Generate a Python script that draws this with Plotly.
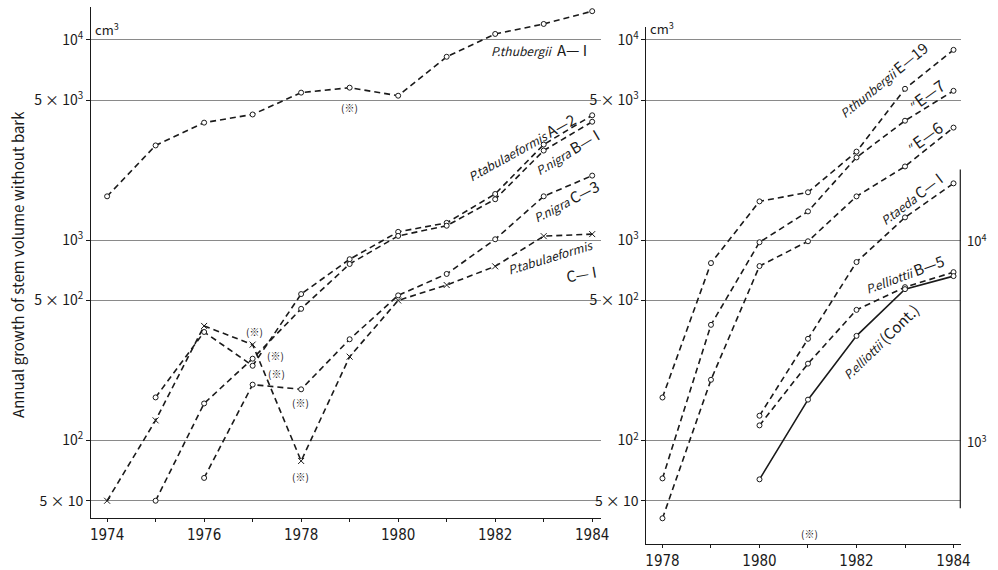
import math
import plotly.graph_objects as go

W, H = 998, 570

# ---------------- data ----------------
years_A1 = [1974, 1975, 1976, 1977, 1978, 1979, 1980, 1981, 1982, 1983, 1984]
thub_A1 = [1655, 2970, 3860, 4240, 5450, 5770, 5260, 8230, 10700, 12000, 13900]

years_A2 = [1975, 1976, 1977, 1978, 1979, 1980, 1981, 1982, 1983, 1984]
tabu_A2 = [164, 348, 236, 538, 803, 1100, 1220, 1700, 3000, 4200]

years_B1 = [1975, 1976, 1977, 1978, 1979, 1980, 1981, 1982, 1983, 1984]
nigra_B1 = [50, 153, 256, 454, 760, 1050, 1180, 1600, 2800, 3900]

years_C3 = [1976, 1977, 1978, 1979, 1980, 1981, 1982, 1983, 1984]
nigra_C3 = [65, 190, 180, 320, 530, 678, 1010, 1655, 2100]

years_C1 = [1974, 1975, 1976, 1977, 1978, 1979, 1980, 1981, 1982, 1983, 1984]
tabu_C1 = [50, 126, 373, 301, 79, 262, 500, 597, 740, 1047, 1072]

years_E = [1978, 1979, 1980, 1981, 1982, 1983, 1984]
thun_E19 = [164, 769, 1563, 1735, 2770, 5700, 8920]
thun_E7 = [64.7, 378, 977, 1393, 2590, 3950, 5570]
thun_E6 = [40.9, 201, 743, 988, 1655, 2335, 3650]

years_R = [1980, 1981, 1982, 1983, 1984]
taeda_C1 = [133, 322, 778, 1300, 1923]
elli_B5 = [119, 242, 449, 583, 693]
elli_cont = [64, 160, 333, 570, 662]

left_year_labels = [1974, 1976, 1978, 1980, 1982, 1984]
right_year_labels = [1978, 1980, 1982, 1984]
ytick_vals = [50, 100, 500, 1000, 5000, 10000]
ytick_text = ["5 × 10", "10<sup>2</sup>", "5 × 10<sup>2</sup>", "10<sup>3</sup>",
              "5 × 10<sup>3</sup>", "10<sup>4</sup>"]
# secondary right-hand scale of the right panel (one decade above the left scale)
y3_vals = [1000, 10000]
y3_text = ["10<sup>3</sup>", "10<sup>4</sup>"]
y3_factor = 10

# ---------------- helpers ----------------
def px(x, y):
    return x / W, 1 - y / H

DASH = "6px,4px"
INK = "#1a1a1a"
FONT = "Noto Sans CJK JP, Noto Sans, Arial, sans-serif"
NARROW = "Liberation Sans Narrow, DejaVu Sans Condensed, Arial Narrow, sans-serif"

fig = go.Figure()

def add(xs, ys, xa, ya, symbol="circle", dash=DASH):
    fig.add_trace(go.Scatter(
        x=xs, y=ys, xaxis=xa, yaxis=ya, mode="lines+markers",
        line=dict(color=INK, width=1.6, dash=dash),
        marker=dict(symbol=symbol, size=5 if symbol == "circle" else 6,
                    color="white" if symbol == "circle" else INK,
                    line=dict(color=INK, width=1)),
        showlegend=False, hoverinfo="x+y"))

add(years_A1, thub_A1, "x", "y")
add(years_A2, tabu_A2, "x", "y")
add(years_B1, nigra_B1, "x", "y")
add(years_C3, nigra_C3, "x", "y")
add(years_C1, tabu_C1, "x", "y", symbol="x-thin")

add(years_E, thun_E19, "x2", "y2")
add(years_E, thun_E7, "x2", "y2")
add(years_E, thun_E6, "x2", "y2")
add(years_R, taeda_C1, "x2", "y2")
add(years_R, elli_B5, "x2", "y2")
add(years_R, elli_cont, "x2", "y2", dash="solid")

tickfont = dict(family=NARROW, size=15, color=INK)
ytickfont = dict(family=FONT, size=14, color=INK)

xcommon = dict(showgrid=False, zeroline=False, showline=True, linecolor=INK, linewidth=1.2,
               ticks="outside", ticklen=3, tickcolor=INK, tickfont=tickfont,
               minor=dict(dtick=1, ticks="outside", ticklen=3, tickcolor=INK, showgrid=False))
ycommon = dict(type="log", showgrid=True, gridcolor="#8a8a8a", gridwidth=1,
               zeroline=False, showline=True, linecolor=INK, linewidth=1.2,
               ticks="outside", ticklen=4, tickcolor=INK,
               tickvals=ytick_vals, ticktext=ytick_text, tickfont=ytickfont)

fig.update_layout(
    width=W, height=H, margin=dict(l=0, r=0, t=0, b=0),
    paper_bgcolor="white", plot_bgcolor="white",
    xaxis=dict(domain=[91 / W, 606 / W], range=[1973.67, 1984.18], anchor="y",
               tickvals=left_year_labels, ticktext=[str(y) for y in left_year_labels],
               **xcommon),
    yaxis=dict(domain=[1 - 520 / H, 1 - 7 / H], range=[1.612, 4.164], anchor="x", **ycommon),
    xaxis2=dict(domain=[652 / W, 970 / W], range=[1977.67, 1984.16], anchor="y2",
                tickvals=right_year_labels, ticktext=[str(y) for y in right_year_labels],
                **xcommon),
    yaxis2=dict(domain=[1 - 546 / H, 1 - 27 / H], range=[1.483, 4.065], anchor="x2", **ycommon),
)

# secondary right-hand axis: line segment, ticks and labels placed on the y2 scale
x0, y0 = px(969, 170)
x1, y1 = px(969, 510)
fig.add_shape(type="line", xref="paper", yref="paper", x0=x0, x1=x1, y0=y0, y1=y1,
              line=dict(color=INK, width=1.2))
xr = 969 / W
for v, t in zip(y3_vals, y3_text):
    ly = math.log10(v / y3_factor)
    fig.add_shape(type="line", xref="paper", yref="y2", x0=xr, x1=xr + 5 / W, y0=ly, y1=ly,
                  line=dict(color=INK, width=1.2))
    fig.add_annotation(text=t, x=xr + 5 / W, y=ly, xref="paper", yref="y2", showarrow=False,
                       xanchor="left", yanchor="middle",
                       font=dict(family=FONT, size=13, color=INK))

def label(text, x, y, angle=0, size=12):
    ax, ay = px(x, y)
    fig.add_annotation(text=text, x=ax, y=ay, xref="paper", yref="paper",
                       showarrow=False, textangle=angle, xanchor="center", yanchor="middle",
                       font=dict(family=FONT, size=size, color=INK))

def sp(name, tag, big=15, small=12):
    return (f"<span style='font-size:{small}px'><i>{name}</i></span> "
            f"<span style='font-size:{big}px'>{tag}</span>")

# series labels - left panel
label(sp("P.thubergii", " A— I"), 543, 50)
label(sp("P.tabulaeformis", "A—2"), 526, 147, angle=-29)
label(sp("P.nigra", "B— I"), 572, 152, angle=-31)
label(sp("P.nigra", "C—3"), 571, 201, angle=-27)
label("<i>P.tabulaeformis</i>", 555, 257, angle=-17, size=12)
label("C— I", 586, 274, angle=-10, size=15)

# series labels - right panel
label(sp("P.thunbergii", "E—19"), 891, 80, angle=-39)
label("<i>″</i> <span style='font-size:16px'>E—7</span>", 934, 95, angle=-36, size=12)
label("<i>″</i> <span style='font-size:16px'>E—6</span>", 932, 137, angle=-36, size=12)
label(sp("P.taeda", "C— I"), 919, 199, angle=-37)
label(sp("P.elliottii", "B—5"), 913, 274, angle=-20)
label(sp("P.elliottii", "(Cont.)", big=15, small=12), 888, 343, angle=-44)

# units
label("cm<sup>3</sup>", 107, 29, size=13)
label("cm<sup>3</sup>", 668, 28, size=13)

# notes (※)
for (nx, ny) in [(352, 108), (256, 333), (277, 357), (278, 375), (303, 404), (303, 478), (817, 535)]:
    label("(※)", nx, ny, size=10)

# y-axis title
label("Annual growth of stem volume without bark", 16, 265, angle=-90, size=15)

fig.write_html("out.html", config={"displayModeBar": False},
               post_script="document.body.style.margin='0px';document.body.style.overflow='hidden';")
